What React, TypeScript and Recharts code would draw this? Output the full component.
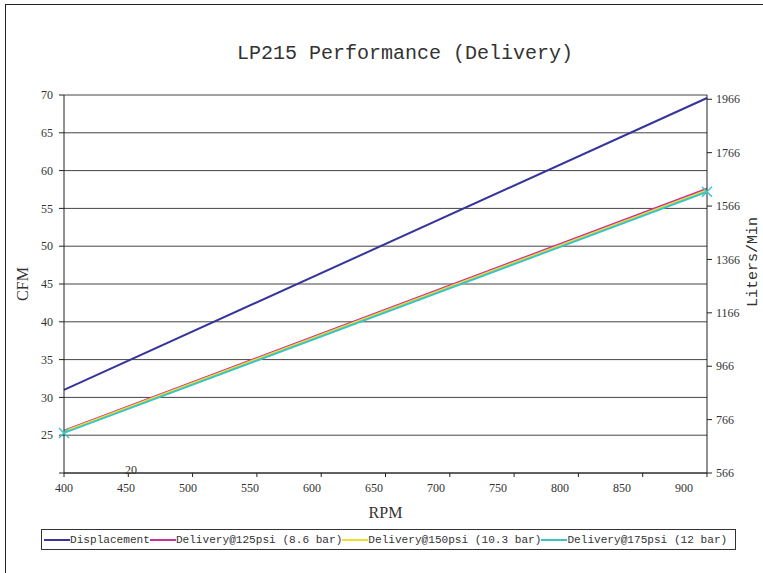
import { LineChart, Line, XAxis, YAxis, CartesianGrid, Legend } from "recharts";

const rpm = [400, 900];
const displacement = [31.0, 69.6];
const delivery125 = [25.6, 57.6];
const delivery150 = [25.5, 57.4];
const delivery175 = [25.3, 57.2];

const xTicks = [400, 450, 500, 550, 600, 650, 700, 750, 800, 850, 900];
const cfmTicks = [20, 25, 30, 35, 40, 45, 50, 55, 60, 65, 70];
const literTicks = [566, 766, 966, 1166, 1366, 1566, 1766, 1966];

const series = [
  { key: "disp", name: "Displacement", color: "#35359a" },
  { key: "d125", name: "Delivery@125psi (8.6 bar)", color: "#c8319a" },
  { key: "d150", name: "Delivery@150psi (10.3 bar)", color: "#f2dc2e" },
  { key: "d175", name: "Delivery@175psi (12 bar)", color: "#3cc4c4" },
];

const data = rpm.map((r, i) => ({
  rpm: r,
  disp: displacement[i],
  d125: delivery125[i],
  d150: delivery150[i],
  d175: delivery175[i],
}));

const serif = "'Liberation Serif', serif";
const mono = "'Liberation Mono', monospace";
const textColor = "#333";

const XTick = ({ x, y, payload }: any) => {
  // labels drift left a little in the original
  const shift = -((payload.value - 400) / 50) * 2.3;
  return (
    <text x={x + shift} y={y} dy="0.75em" textAnchor="middle" fontFamily={serif} fontSize={12} fill={textColor}>
      {payload.value}
    </text>
  );
};

const LeftTick = ({ x, y, payload }: any) => {
  if (payload.value === 20) {
    return (
      <text x={x + 78} y={y} dy="0.1em" textAnchor="middle" fontFamily={serif} fontSize={12} fill={textColor}>
        20
      </text>
    );
  }
  return (
    <text x={x} y={y} dy="0.35em" textAnchor="end" fontFamily={serif} fontSize={12} fill={textColor}>
      {payload.value}
    </text>
  );
};

const RightTick = ({ x, y, payload }: any) => (
  <text x={x} y={y} dy="0.35em" textAnchor="start" fontFamily={serif} fontSize={12} fill={textColor}>
    {payload.value}
  </text>
);

const CrossDot = ({ cx, cy, stroke }: any) => {
  if (cx == null || cy == null) return null;
  const s = 5;
  return (
    <g stroke={stroke} strokeWidth={1.5}>
      <line x1={cx - s} y1={cy - s} x2={cx + s} y2={cy + s} />
      <line x1={cx - s} y1={cy + s} x2={cx + s} y2={cy - s} />
    </g>
  );
};

const LegendBox = () => (
  <div
    style={{
      boxSizing: "border-box",
      height: 21,
      border: "1px solid #333",
      display: "flex",
      alignItems: "center",
      fontFamily: mono,
      fontSize: 11.1,
      color: textColor,
      whiteSpace: "nowrap",
      paddingLeft: 2,
    }}
  >
    {series.map((s) => (
      <span key={s.key} style={{ display: "flex", alignItems: "center" }}>
        <span style={{ display: "inline-block", width: 26, height: 2, background: s.color }} />
        {s.name}
      </span>
    ))}
  </div>
);

export default function App() {
  return (
    <div style={{ position: "absolute", left: 0, top: 0, width: 763, height: 573, background: "#fff" }}>
      <div
        style={{
          position: "absolute",
          left: 5,
          top: 4,
          right: 0,
          bottom: 0,
          borderTop: "1px solid #222",
          borderLeft: "1px solid #222",
        }}
      />
      <div
        style={{
          position: "absolute",
          left: 0,
          width: 810,
          top: 40,
          textAlign: "center",
          fontFamily: mono,
          fontSize: 20,
          color: textColor,
          lineHeight: "28px",
        }}
      >
        LP215 Performance (Delivery)
      </div>
      <div style={{ position: "absolute", left: 0, top: 0 }}>
        <LineChart width={763} height={573} data={data} margin={{ top: 95, right: 16, left: 24, bottom: 23 }}>
          <CartesianGrid vertical={false} stroke="#444" strokeWidth={1} yAxisId="left" />
          <XAxis
            dataKey="rpm"
            type="number"
            domain={[400, 900]}
            ticks={xTicks}
            height={56}
            tick={<XTick />}
            tickSize={4}
            tickMargin={6}
            stroke="#222"
            label={({ viewBox }: any) => (
              <text
                x={viewBox.x + viewBox.width / 2}
                y={viewBox.y + 45}
                textAnchor="middle"
                fontFamily={serif}
                fontSize={16}
                fill={textColor}
              >
                RPM
              </text>
            )}
          />
          <YAxis
            yAxisId="left"
            domain={[20, 70]}
            ticks={cfmTicks}
            width={40}
            tick={<LeftTick />}
            tickSize={5}
            tickMargin={6}
            stroke="#222"
            label={({ viewBox }: any) => (
              <text
                x={22}
                y={viewBox.y + viewBox.height / 2}
                transform={`rotate(-90 22 ${viewBox.y + viewBox.height / 2})`}
                textAnchor="middle"
                dy="0.35em"
                fontFamily={serif}
                fontSize={16}
                fill={textColor}
              >
                CFM
              </text>
            )}
          />
          <YAxis
            yAxisId="right"
            orientation="right"
            domain={[566, 1982]}
            ticks={literTicks}
            allowDataOverflow
            width={40}
            tick={<RightTick />}
            tickSize={5}
            tickMargin={4}
            stroke="#222"
            label={() => (
              <text
                x={752}
                y={262}
                transform="rotate(-90 752 262)"
                textAnchor="middle"
                dy="0.35em"
                fontFamily={mono}
                fontSize={15}
                fill={textColor}
              >
                Liters/Min
              </text>
            )}
          />
          {series.map((s) => (
            <Line
              key={s.key}
              yAxisId="left"
              type="linear"
              dataKey={s.key}
              name={s.name}
              stroke={s.color}
              strokeWidth={2}
              dot={s.key === "d175" ? <CrossDot /> : false}
              activeDot={false}
              isAnimationActive={false}
            />
          ))}
          {/* empty series so the liters axis gets drawn */}
          <Line
            yAxisId="right"
            dataKey="liters"
            stroke="none"
            dot={false}
            activeDot={false}
            legendType="none"
            isAnimationActive={false}
          />
          <Legend
            verticalAlign="bottom"
            content={<LegendBox />}
            wrapperStyle={{ left: 41, width: 695, bottom: 23 }}
          />
        </LineChart>
      </div>
    </div>
  );
}
